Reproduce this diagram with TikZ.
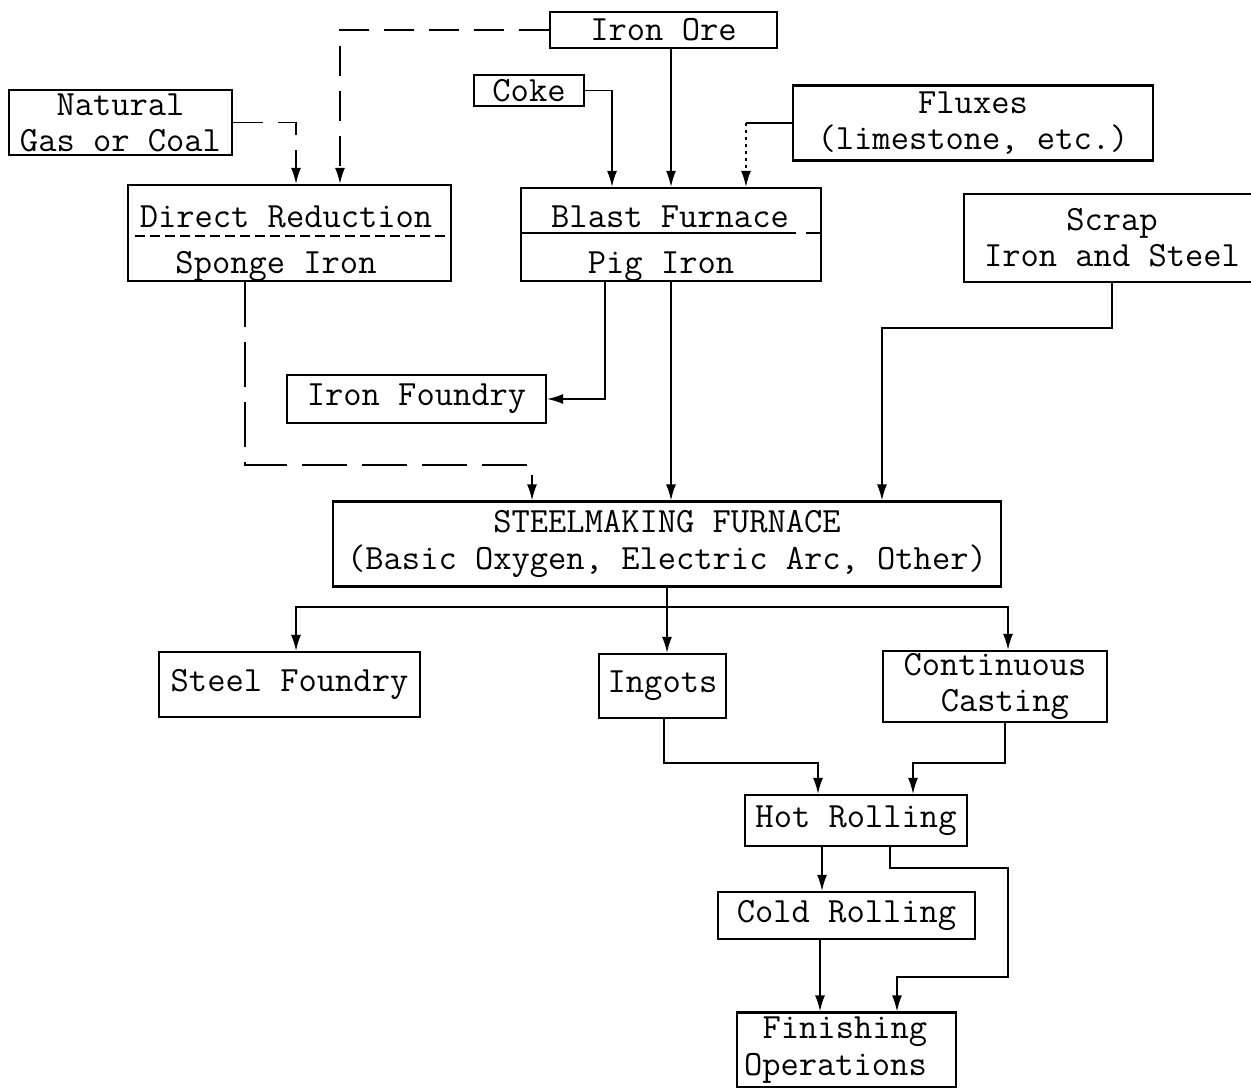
\documentclass[tikz,border=0pt]{standalone}
\usepackage{fontspec}
\usetikzlibrary{arrows.meta}
\begin{document}
\begin{tikzpicture}[x=0.02cm,y=-0.02cm,
  box/.style={draw,line width=1.3pt,inner sep=0pt,align=center,
    font=\ttfamily\fontsize{20.2}{20.6}\selectfont},
  txt/.style={inner sep=0pt,anchor=base,font=\ttfamily\fontsize{20.2}{20.6}\selectfont},
  conn/.style={line width=0.9pt},
  arr/.style={conn,-{Latex[length=3.2mm,width=2mm]}},
  dasharr/.style={arr,dash pattern=on 0.6cm off 0.3cm},
  longdash/.style={arr,dash pattern=on 0.9cm off 0.3cm},
  dotarr/.style={arr,dash pattern=on 1.5pt off 2.5pt}]
\useasboundingbox (0,0) rectangle (1251,1088);

% raw materials
\node[box,minimum width=4.54cm,minimum height=0.72cm] (ore) at (663.5,30) {Iron Ore};
\node[box,minimum width=4.46cm,minimum height=1.30cm] (gas) at (120.5,122.5) {Natural\\Gas or Coal};
\node[box,minimum width=2.2cm,minimum height=0.62cm] (coke) at (529,90.5) {Coke};
\node[box,minimum width=7.2cm,minimum height=1.5cm] (flux) at (973,123) {Fluxes\\(limestone, etc.)};
\node[box,minimum width=5.92cm,minimum height=1.76cm] (scrap) at (1112,238) {Scrap\\Iron and Steel};

% two-part process boxes
\node[box,minimum width=6.46cm,minimum height=1.92cm] (dr) at (289.5,233) {};
\node[txt] (drt) at (286,227) {Direct Reduction};
\node[txt] (drb) at (276,273) {Sponge Iron};
\draw[line width=0.9pt,dash pattern=on 0.2cm off 0.1cm] (135,236) -- (448,236);

\node[box,minimum width=6.0cm,minimum height=1.86cm] (bf) at (671,234.5) {};
\node[txt] (bft) at (670,227) {Blast Furnace};
\node[txt] (bfb) at (661,273) {Pig Iron};
\draw[line width=0.9pt] (521,233) -- (796,233) (806,233) -- (821,233);

% downstream boxes
\node[box,minimum width=5.18cm,minimum height=0.96cm] (ifd) at (416.5,399) {Iron Foundry};
\node[box,minimum width=13.36cm,minimum height=1.7cm] (smf) at (667,544)
  {STEELMAKING FURNACE\\(Basic Oxygen, Electric Arc, Other)};
\node[box,minimum width=5.22cm,minimum height=1.3cm] (sfd) at (289.5,684.5) {Steel Foundry};
\node[box,minimum width=2.54cm,minimum height=1.28cm] (ingots) at (662.5,686) {Ingots};
\node[box,minimum width=4.48cm,minimum height=1.42cm,align=left] (cc) at (995,686.5)
  {Continuous\\\hspace*{1.05em}Casting};
\node[box,minimum width=4.44cm,minimum height=1.02cm] (hr) at (856,820.5) {Hot Rolling};
\node[box,minimum width=5.14cm,minimum height=0.94cm] (cr) at (846.5,915.5) {Cold Rolling};
\node[box,minimum width=4.38cm,minimum height=1.5cm,align=left,text width=4.1cm] (fo) at (846.5,1050)
  {\hspace*{0.525em}Finishing\\Operations};

% bend points
\coordinate (fxk) at ([xshift=1.5cm]bf.north);
\coordinate (drbend) at (245,465);
\coordinate (scbend) at (1112,328);
\coordinate (bus) at (669,607);
\coordinate (rbend) at (800,763);
\coordinate (loopA) at (1008,868);
\coordinate (loopB) at (1008,977);

% feeds into reduction and blast furnace
\draw[dasharr] (ore.west) -| ([xshift=1.01cm]dr.north);
\draw[dasharr] (gas.east) -| ([xshift=0.13cm]dr.north);
\draw[arr] (bf.north |- ore.south) -- (bf.north);
\draw[arr] (coke.east) -| ([xshift=-1.18cm]bf.north);
\draw[conn] (flux.west) -- (flux.west -| fxk);
\draw[dotarr] (flux.west -| fxk) -- (fxk);

% iron to the steelmaking furnace
\draw[longdash] (dr.south -| drbend) -- (drbend) -| ([xshift=-2.7cm]smf.north);
\draw[arr] ([xshift=-1.32cm]bf.south) |- (ifd.east);
\draw[arr] (bf.south) -- (bf.south |- smf.north);
\draw[arr] (scrap.south) -- (scrap.south |- scbend) -| ([xshift=4.3cm]smf.north);

% furnace outputs
\draw[conn] (smf.south) -- (smf.south |- bus);
\draw[arr] (smf.south |- bus) -- (smf.south |- ingots.north);
\draw[arr] (smf.south |- bus) -| ([xshift=0.13cm]sfd.north);
\draw[arr] (smf.south |- bus) -| ([xshift=0.26cm]cc.north);

% rolling and finishing
\draw[arr] ([xshift=0.03cm]ingots.south) -- ([xshift=0.03cm]ingots.south |- rbend) -| ([xshift=-0.76cm]hr.north);
\draw[arr] ([xshift=0.2cm]cc.south) -- ([xshift=0.2cm]cc.south |- rbend) -| ([xshift=1.14cm]hr.north);
\draw[arr] ([xshift=-0.68cm]hr.south) -- ([xshift=-0.68cm]hr.south |- cr.north);
\draw[arr] ([xshift=0.68cm]hr.south) |- (loopA) -- (loopB) -| ([xshift=1.01cm]fo.north);
\draw[arr] ([xshift=-0.53cm]cr.south) -- ([xshift=-0.53cm]cr.south |- fo.north);
\end{tikzpicture}
\end{document}
